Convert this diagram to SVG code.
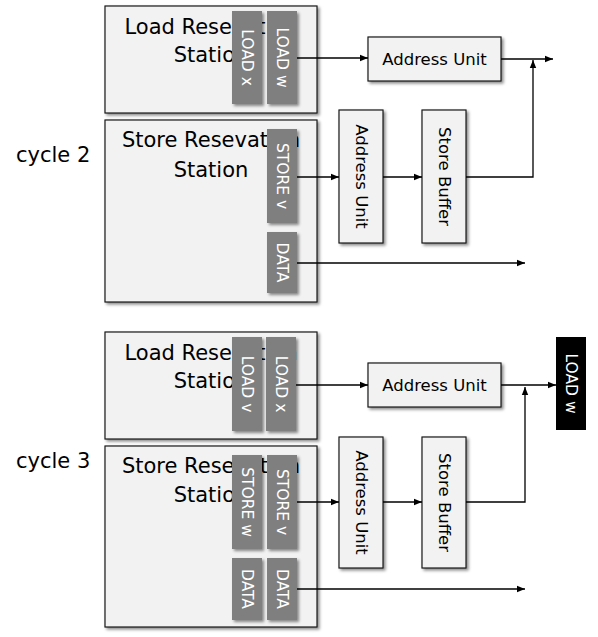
<svg xmlns="http://www.w3.org/2000/svg" width="598" height="637" viewBox="0 0 598 637">
<defs>
<filter id="sh" x="-20%" y="-20%" width="140%" height="140%">
<feDropShadow dx="2" dy="2" stdDeviation="1.5" flood-color="#000" flood-opacity="0.45"/>
</filter>
<marker id="ah" viewBox="0 0 10 10" refX="10" refY="5" markerWidth="8" markerHeight="8" markerUnits="userSpaceOnUse" orient="auto">
<path d="M0,1 L10,5 L0,9 z" fill="#000"/>
</marker>
<style>
.rs{fill:#f2f2f2;stroke:#1a1a1a;stroke-width:1.2;filter:url(#sh)}
.bx{fill:#f2f2f2;stroke:#1a1a1a;stroke-width:1.2;filter:url(#sh)}
.tag{fill:#7f7f7f;filter:url(#sh)}
.blk{fill:#000}
.t{font-family:"DejaVu Sans",sans-serif;fill:#000}
.big{font-size:21px;text-anchor:middle}
.lbl{font-size:21px}
.mid{font-size:16.5px;text-anchor:middle;dominant-baseline:central}
.tt{font-family:"DejaVu Sans",sans-serif;font-size:15.5px;fill:#fff;text-anchor:middle;dominant-baseline:central}
.ln{fill:none;stroke:#000;stroke-width:1.3}
.ar{marker-end:url(#ah)}
</style>
</defs>

<text class="t lbl" x="16" y="162">cycle 2</text>
<text class="t lbl" x="16" y="468">cycle 3</text>

<!-- cycle 2 -->
<g id="c2-load-rs">
<rect class="rs" x="105" y="6" width="212" height="107"/>
<text class="t big" x="211" y="34">Load Resevation</text>
<text class="t big" x="211" y="62">Station</text>
</g>
<g id="c2-load-x"><rect class="tag" x="232" y="11" width="30" height="93"/><text class="tt" transform="translate(247,57.5) rotate(90)">LOAD x</text></g>
<g id="c2-load-w"><rect class="tag" x="267" y="11" width="30" height="93"/><text class="tt" transform="translate(282,57.5) rotate(90)">LOAD w</text></g>

<g id="c2-store-rs">
<rect class="rs" x="105" y="120" width="212" height="182"/>
<text class="t big" x="211" y="147">Store Resevation</text>
<text class="t big" x="211" y="177">Station</text>
</g>
<g id="c2-store-v"><rect class="tag" x="267" y="129" width="30" height="94"/><text class="tt" transform="translate(282,176) rotate(90)">STORE v</text></g>
<g id="c2-data"><rect class="tag" x="267" y="232" width="30" height="61"/><text class="tt" transform="translate(282,262.5) rotate(90)">DATA</text></g>

<g id="c2-au-h"><rect class="bx" x="368" y="37" width="133" height="44"/><text class="t mid" x="434.5" y="59">Address Unit</text></g>
<g id="c2-au-v"><rect class="bx" x="339" y="110" width="44" height="133"/><text class="t mid" transform="translate(361,176.5) rotate(90)">Address Unit</text></g>
<g id="c2-sb"><rect class="bx" x="422" y="110" width="44" height="133"/><text class="t mid" transform="translate(444,176.5) rotate(90)">Store Buffer</text></g>

<!-- cycle 3 -->
<g id="c3-load-rs">
<rect class="rs" x="105" y="332" width="212" height="107"/>
<text class="t big" x="211" y="360">Load Resevation</text>
<text class="t big" x="211" y="388">Station</text>
</g>
<g id="c3-load-v"><rect class="tag" x="232" y="337" width="30" height="94"/><text class="tt" transform="translate(247,384) rotate(90)">LOAD v</text></g>
<g id="c3-load-x"><rect class="tag" x="266" y="337" width="30" height="94"/><text class="tt" transform="translate(281,384) rotate(90)">LOAD x</text></g>

<g id="c3-store-rs">
<rect class="rs" x="105" y="446" width="212" height="181"/>
<text class="t big" x="211" y="473">Store Resevation</text>
<text class="t big" x="211" y="502">Station</text>
</g>
<g id="c3-store-w"><rect class="tag" x="232" y="455" width="30" height="94"/><text class="tt" transform="translate(247,502) rotate(90)">STORE w</text></g>
<g id="c3-store-v"><rect class="tag" x="267" y="455" width="30" height="94"/><text class="tt" transform="translate(282,502) rotate(90)">STORE v</text></g>
<g id="c3-data-1"><rect class="tag" x="232" y="558" width="30" height="62"/><text class="tt" transform="translate(247,589) rotate(90)">DATA</text></g>
<g id="c3-data-2"><rect class="tag" x="267" y="558" width="30" height="62"/><text class="tt" transform="translate(282,589) rotate(90)">DATA</text></g>

<g id="c3-au-h"><rect class="bx" x="368" y="363" width="133" height="44"/><text class="t mid" x="434.5" y="385">Address Unit</text></g>
<g id="c3-au-v"><rect class="bx" x="339" y="437" width="44" height="131"/><text class="t mid" transform="translate(361,502.5) rotate(90)">Address Unit</text></g>
<g id="c3-sb"><rect class="bx" x="422" y="437" width="44" height="131"/><text class="t mid" transform="translate(444,502.5) rotate(90)">Store Buffer</text></g>
<g id="c3-load-w-out"><rect class="blk" x="556" y="337" width="30" height="93"/><text class="tt" transform="translate(571,383.5) rotate(90)">LOAD w</text></g>

<g id="connectors">
<path class="ln ar" d="M297,58 H368"/>
<path class="ln ar" d="M501,59 H553"/>
<path class="ln ar" d="M297,177 H339"/>
<path class="ln ar" d="M383,177 H422"/>
<path class="ln ar" d="M466,177 H533 V60"/>
<path class="ln ar" d="M297,263 H525"/>

<path class="ln ar" d="M296,385 H368"/>
<path class="ln ar" d="M501,385 H556"/>
<path class="ln ar" d="M297,502 H339"/>
<path class="ln ar" d="M383,502 H422"/>
<path class="ln ar" d="M466,502 H525 V387"/>
<path class="ln ar" d="M297,589 H525"/>
</g>
</svg>
